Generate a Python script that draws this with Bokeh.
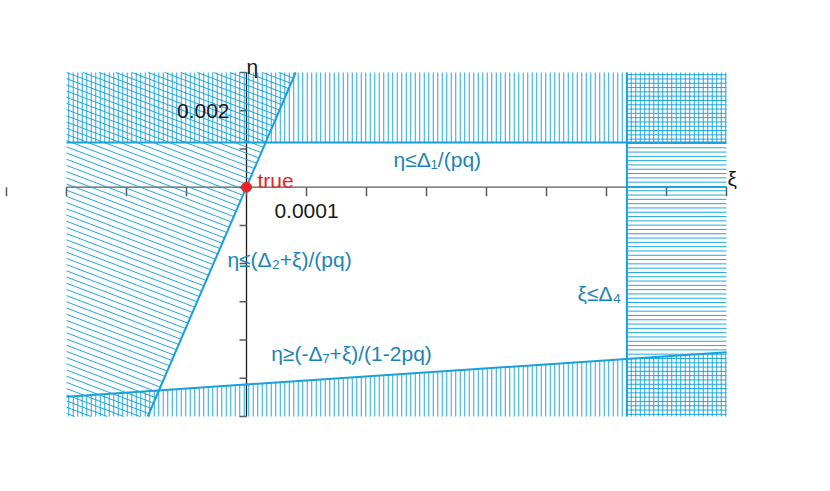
import numpy as np
from bokeh.plotting import figure
from bokeh.models import Range1d, Label
from bokeh.embed import file_html
from bokeh.resources import INLINE

# ---------------- data ----------------
xi_range = [-0.0003, 0.0008]
eta_range = [-0.006, 0.003]
pq = 0.0274                 # slope parameter of the Delta2 / Delta7 boundaries
delta1_over_pq = 0.00117    # eta <= Delta1/(pq)
delta2 = 2e-7               # eta <= (Delta2 + xi)/(pq)
delta4 = 0.000634           # xi <= Delta4
delta7 = 0.00488            # eta >= (-Delta7 + xi)/(1-2pq)
x_ticks = [-0.0004, -0.0003, -0.0002, -0.0001, 0.0, 0.0001, 0.0002, 0.0003,
           0.0004, 0.0005, 0.0006, 0.0007, 0.0008]
y_ticks = [-0.006, -0.005, -0.004, -0.003, -0.002, -0.001, 0.0,
           0.001, 0.002, 0.003]
x_tick_label_pos = [0.0001]
x_tick_label_txt = ["0.0001"]
y_tick_label_pos = [0.002]
y_tick_label_txt = ["0.002"]
true_xi = [0.0]
true_eta = [0.0]

X0, X1 = xi_range
Y0, Y1 = eta_range

HATCH = "#0a9fdb"
EDGE = "#1aa0da"
TEXT = "#1c84b4"
FONT = "Liberation Sans"

# plotting area of the region plot inside the page (pixels)
W, H = 822, 482
ML, MR, MT, MB = 66, 96, 72, 66
FW, FH = W - ML - MR, H - MT - MB
px_x = (X1 - X0) / FW
px_y = (Y1 - Y0) / FH

p = figure(width=W, height=H, output_backend="svg", toolbar_location=None,
           x_range=Range1d(X0 - ML * px_x, X1 + MR * px_x),
           y_range=Range1d(Y0 - MB * px_y, Y1 + MT * px_y),
           x_axis_location=None, y_axis_location=None,
           min_border=0, frame_width=W, frame_height=H)
p.outline_line_color = None
p.grid.visible = False
p.background_fill_color = "white"

def xi_on_d2(eta):
    return pq * eta - delta2

def eta_on_d7(xi):
    return (xi - delta7) / (1 - 2 * pq)

# ---------------- axes (drawn first) ----------------
p.segment(x0=[X0], y0=[0], x1=[X1], y1=[0], line_color="#5a5a5a", line_width=1.3)
p.segment(x0=[0], y0=[Y0], x1=[0], y1=[Y1], line_color="#1a1a1a", line_width=1.3)
p.ray(x=x_ticks, y=[0] * len(x_ticks), length=9, length_units="screen",
      angle=-np.pi / 2, line_color="#5a5a5a", line_width=1.5)
p.ray(x=[0] * len(y_ticks), y=y_ticks, length=7, length_units="screen",
      angle=np.pi, line_color="#5a5a5a", line_width=1.5)

# ---------------- hatching ----------------
hx0, hy0, hx1, hy1 = [], [], [], []
dv = 4.5 * px_x
for x in np.arange(X0 + dv / 2, X1, dv):
    hx0.append(x); hy0.append(delta1_over_pq); hx1.append(x); hy1.append(Y1)
for x in np.arange(X0 + dv / 2, X1, dv):
    hx0.append(x); hy0.append(Y0); hx1.append(x); hy1.append(eta_on_d7(x))
dh = 4.3 * px_y
for y in np.arange(Y0 + dh / 2, Y1, dh):
    hx0.append(delta4); hy0.append(y); hx1.append(X1); hy1.append(y)
k = 0.38 * px_y / px_x
dc = 6.2 * px_y
cmin = Y0 + k * X0
cmax = Y1 + k * xi_on_d2(Y1)
for c in np.arange(cmin + dc / 2, cmax, dc):
    lo = max(X0, (c - Y1) / k)
    xi_int = (c - delta2 / pq) / (k + 1.0 / pq)
    hi = min(xi_int, (c - Y0) / k)
    if hi > lo:
        hx0.append(lo); hy0.append(c - k * lo); hx1.append(hi); hy1.append(c - k * hi)
p.segment(x0=hx0, y0=hy0, x1=hx1, y1=hy1, line_color=HATCH, line_width=1, line_alpha=0.9)

# ---------------- boundaries ----------------
p.segment(x0=[X0], y0=[delta1_over_pq], x1=[X1], y1=[delta1_over_pq], line_color=EDGE, line_width=2)
p.segment(x0=[xi_on_d2(Y0)], y0=[Y0], x1=[xi_on_d2(Y1)], y1=[Y1], line_color=EDGE, line_width=2)
p.segment(x0=[X0], y0=[eta_on_d7(X0)], x1=[X1], y1=[eta_on_d7(X1)], line_color=EDGE, line_width=2)
p.segment(x0=[delta4], y0=[Y0], x1=[delta4], y1=[Y1], line_color=EDGE, line_width=2)

# ---------------- true point ----------------
p.scatter(x=true_xi, y=true_eta, size=10, color="#e8232a")

def lab(**kw):
    kw.setdefault("text_font", FONT)
    kw.setdefault("text_font_size", "21px")
    p.add_layout(Label(level="overlay", **kw))

lab(x=true_xi[0], y=true_eta[0], text="true", x_offset=11, y_offset=7,
    text_align="left", text_baseline="middle", text_color="#e8232a")

# ---------------- tick labels ----------------
for xv, t in zip(x_tick_label_pos, x_tick_label_txt):
    lab(x=xv, y=0, text=t, y_offset=-17, text_align="center",
        text_baseline="top", text_color="#1a1a1a")
for yv, t in zip(y_tick_label_pos, y_tick_label_txt):
    lab(x=0, y=yv, text=t, x_offset=-17, text_align="right",
        text_baseline="middle", text_color="#1a1a1a")

# axis names
lab(x=0, y=Y1, text="η", x_offset=0, y_offset=6, text_align="left",
    text_baseline="alphabetic", text_color="#1a1a1a")
lab(x=X1, y=0, text="ξ", x_offset=1, y_offset=9, text_align="left",
    text_baseline="middle", text_color="#1a1a1a")

# ---------------- region labels ----------------
region_labels = [
    (0.000318, 0.00073, "η≤Δ₁/(pq)"),
    (0.0000717, -0.00188, "η≤(Δ₂+ξ)/(pq)"),
    (0.000175, -0.00434, "η≥(-Δ₇+ξ)/(1-2pq)"),
    (0.000588, -0.00277, "ξ≤Δ₄"),
]
for xv, yv, t in region_labels:
    lab(x=xv, y=yv, text=t, text_align="center", text_baseline="middle",
        text_color=TEXT)

open("out.html", "w").write(file_html(p, INLINE))
